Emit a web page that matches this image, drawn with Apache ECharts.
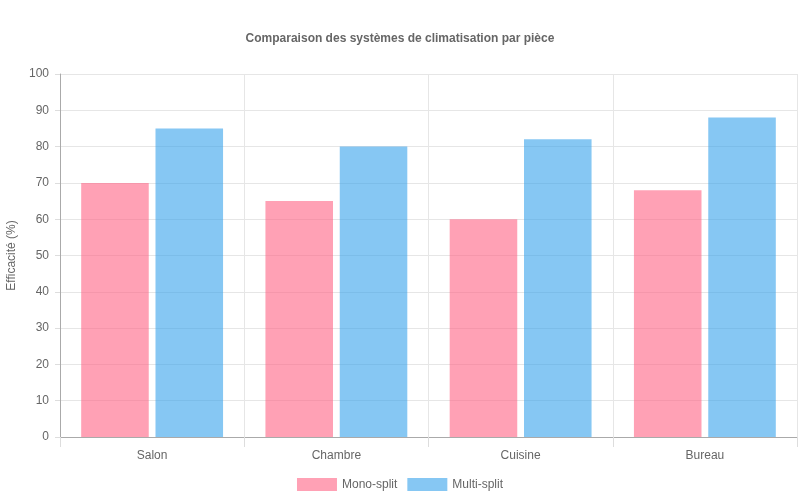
<!DOCTYPE html>
<html>
<head>
<meta charset="utf-8">
<script src="https://cdn.jsdelivr.net/npm/echarts@6/dist/echarts.min.js"></script>
<style>
  html, body { margin: 0; padding: 0; background: #fff; }
  #chart { width: 800px; height: 500px; }
</style>
</head>
<body>
<div id="chart"></div>
<script>
// données
var pieces = ['Salon', 'Chambre', 'Cuisine', 'Bureau'];
var monoSplit = [70, 65, 60, 68];
var multiSplit = [85, 80, 82, 88];

var myChart = echarts.init(document.getElementById('chart'));

var police = 'Liberation Sans, Arial, sans-serif';

var option = {
  animation: false,
  textStyle: { fontFamily: police },
  title: {
    text: 'Comparaison des systèmes de climatisation par pièce',
    left: 'center',
    top: 28,
    textStyle: { fontSize: 12, fontWeight: 'bold', color: '#666', fontFamily: police }
  },
  legend: {
    bottom: 4,
    itemWidth: 40,
    itemHeight: 13,
    itemGap: 10,
    icon: 'rect',
    textStyle: { color: '#666', fontSize: 12 },
    data: ['Mono-split', 'Multi-split']
  },
  grid: { left: 60, right: 3, top: 74, bottom: 63, outerBoundsMode: 'none', containLabel: false },
  xAxis: {
    type: 'category',
    data: pieces,
    axisLine: { lineStyle: { color: '#aaa' } },
    axisTick: { show: true, length: 10, lineStyle: { color: '#ddd' } },
    splitLine: { show: true, lineStyle: { color: '#e6e6e6' } },
    axisLabel: { color: '#666', fontSize: 12, margin: 13 }
  },
  yAxis: {
    type: 'value',
    min: 0,
    max: 100,
    interval: 10,
    name: 'Efficacité (%)',
    nameLocation: 'middle',
    nameGap: 41,
    nameTextStyle: { color: '#666', fontSize: 12 },
    axisLine: { show: true, lineStyle: { color: '#aaa' } },
    axisTick: { show: true, length: 5, lineStyle: { color: '#ddd' } },
    splitLine: { lineStyle: { color: '#e6e6e6' } },
    axisLabel: { color: '#666', fontSize: 12, margin: 11 }
  },
  series: [
    {
      name: 'Mono-split',
      type: 'bar',
      data: monoSplit,
      barGap: '10%',
      barCategoryGap: '23%',
      itemStyle: { color: 'rgba(255,99,132,0.6)' }
    },
    {
      name: 'Multi-split',
      type: 'bar',
      data: multiSplit,
      barGap: '10%',
      barCategoryGap: '23%',
      itemStyle: { color: 'rgba(54,162,235,0.6)' }
    }
  ]
};

myChart.setOption(option);
</script>
</body>
</html>
